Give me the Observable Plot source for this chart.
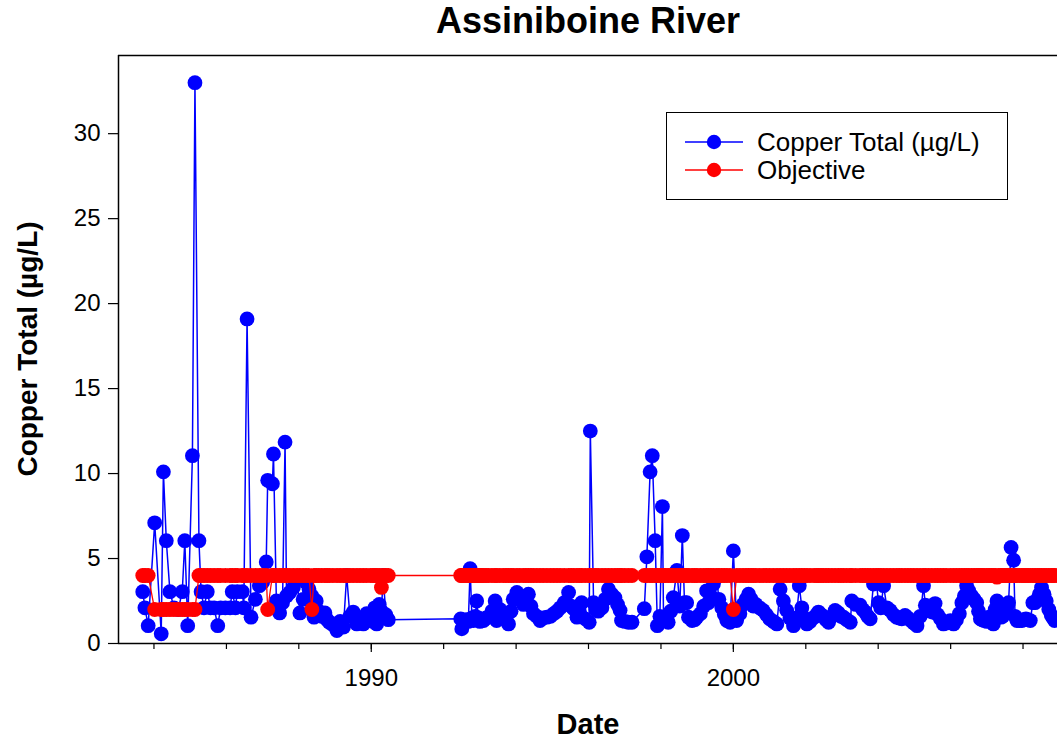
<!DOCTYPE html>
<html>
<head>
<meta charset="utf-8">
<script src="https://cdn.jsdelivr.net/npm/d3@7"></script>
<script src="https://cdn.jsdelivr.net/npm/@observablehq/plot@0.6"></script>
<style>
  html, body { margin: 0; padding: 0; background: #fff; overflow: hidden; }
  #wrap { position: relative; width: 1057px; height: 742px; font-family: "Liberation Sans", Arial, sans-serif; }
  #title { position: absolute; left: 118px; width: 940px; top: 0px; text-align: center; font-weight: bold; font-size: 36px; }
  #xlabel { position: absolute; left: 118px; width: 940px; top: 708px; text-align: center; font-weight: bold; font-size: 29px; }
  #ylabel { position: absolute; left: 28px; top: 349px; transform: translate(-50%, -50%) rotate(-90deg); white-space: nowrap; font-weight: bold; font-size: 28px; }
  #legend { position: absolute; left: 666px; top: 112px; width: 340px; height: 86px; border: 1.5px solid #000; background: #fff; }
  .row { position: absolute; left: 18px; height: 28px; display: flex; align-items: center; font-size: 26px; }
  .row svg { margin-right: 14px; }
</style>
</head>
<body>
<div id="wrap">
  <div id="chart"></div>
  <div id="title">Assiniboine River</div>
  <div id="ylabel">Copper Total (µg/L)</div>
  <div id="xlabel">Date</div>
  <div id="legend"></div>
</div>
<script>
// Sample dates as decimal years
const sampleYears = [
  1983.69, 1983.75, 1983.84, 1984.02, 1984.20, 1984.26, 1984.34, 1984.44, 1984.55, 1984.67, 1984.78, 1984.85, 1984.93, 1985.06, 1985.13,
  1985.24, 1985.30, 1985.38, 1985.47, 1985.56, 1985.66, 1985.76, 1985.84, 1985.97, 1986.10, 1986.16, 1986.25, 1986.30, 1986.44, 1986.48, 1986.57, 1986.68, 1986.80, 1986.91,
  1987.00, 1987.10, 1987.14, 1987.27, 1987.30, 1987.38, 1987.47, 1987.55, 1987.62, 1987.66, 1987.75, 1987.85, 1987.95, 1988.03, 1988.12, 1988.20, 1988.28, 1988.36, 1988.42,
  1988.48, 1988.55, 1988.63, 1988.72, 1988.78, 1988.84, 1988.94, 1989.05, 1989.14, 1989.23, 1989.32, 1989.41, 1989.50, 1989.60, 1989.69, 1989.78, 1989.87, 1989.98, 1990.05, 1990.10, 1990.15, 1990.22, 1990.28, 1990.33, 1990.40, 1990.47,
  1992.47, 1992.50, 1992.56, 1992.62, 1992.68, 1992.73, 1992.78, 1992.82, 1992.87, 1992.91, 1992.96, 1993.00, 1993.05, 1993.10, 1993.17, 1993.23, 1993.33, 1993.42, 1993.46, 1993.55, 1993.65, 1993.72, 1993.79, 1993.86, 1993.92,
  1994.02, 1994.10, 1994.20, 1994.27, 1994.34, 1994.41, 1994.48, 1994.57, 1994.66, 1994.75, 1994.85, 1994.95, 1995.04, 1995.13, 1995.22, 1995.33, 1995.45, 1995.52, 1995.59, 1995.68, 1995.75, 1995.81, 1995.91,
  1996.02, 1996.05, 1996.14, 1996.20, 1996.27, 1996.37, 1996.46, 1996.55, 1996.64, 1996.73, 1996.80, 1996.87, 1996.91, 1997.00, 1997.10, 1997.20,
  1997.54, 1997.61, 1997.70, 1997.76, 1997.84, 1997.90, 1997.97, 1998.04, 1998.07, 1998.12, 1998.20, 1998.27, 1998.34, 1998.44, 1998.52, 1998.59, 1998.65, 1998.71, 1998.76, 1998.86, 1998.93, 1998.99,
  1999.09, 1999.18, 1999.26, 1999.31, 1999.38, 1999.45, 1999.54, 1999.60, 1999.68, 1999.75, 1999.82, 1999.91, 2000.00, 2000.09, 2000.18, 2000.27, 2000.35, 2000.42, 2000.49, 2000.55, 2000.62, 2000.72, 2000.82, 2000.91,
  2001.00, 2001.10, 2001.20, 2001.29, 2001.38, 2001.47, 2001.56, 2001.66, 2001.74, 2001.82, 2001.89, 2001.96, 2002.03, 2002.12, 2002.23, 2002.30, 2002.35, 2002.42, 2002.48, 2002.56, 2002.63, 2002.72, 2002.81, 2002.90, 2002.97,
  2003.04, 2003.13, 2003.23, 2003.27, 2003.38, 2003.50, 2003.57, 2003.64, 2003.71, 2003.78, 2003.87, 2003.95, 2004.01, 2004.07, 2004.15, 2004.24, 2004.33, 2004.42, 2004.51, 2004.58, 2004.65, 2004.74, 2004.82, 2004.90, 2004.98,
  2005.07, 2005.16, 2005.25, 2005.30, 2005.39, 2005.48, 2005.57, 2005.64, 2005.72, 2005.80, 2005.88, 2005.99, 2006.08, 2006.16, 2006.24, 2006.31, 2006.38, 2006.44, 2006.50, 2006.58, 2006.65, 2006.72, 2006.77, 2006.82, 2006.87, 2006.92,
  2007.00, 2007.06, 2007.12, 2007.18, 2007.23, 2007.28, 2007.33, 2007.39, 2007.44, 2007.50, 2007.55, 2007.60, 2007.67, 2007.74, 2007.78, 2007.83, 2007.90, 2007.97, 2008.02, 2008.08, 2008.14, 2008.20, 2008.27, 2008.33, 2008.40, 2008.45, 2008.51, 2008.58, 2008.64, 2008.71, 2008.78, 2008.83, 2008.87, 2008.95, 2009.05
];
// Copper Total (µg/L)
const copperTotal = [
  3.05, 2.1, 1.05, 7.1, 0.57, 10.1, 6.05, 3.05, 2.1, 2.0, 3.05, 6.05, 1.05, 11.05, 33.0,
  6.05, 3.05, 2.1, 3.05, 2.1, 2.1, 1.05, 2.1, 2.1, 2.1, 3.05, 2.1, 3.05, 3.05, 2.1, 19.1, 1.55, 2.6, 3.4,
  3.6, 4.8, 9.6, 9.4, 11.15, 2.5, 1.8, 2.4, 11.85, 2.8, 3.0, 3.3, 3.9, 1.8, 2.6, 3.6, 3.2, 2.8, 1.55,
  2.5, 1.9, 1.6, 1.8, 1.4, 1.25, 1.1, 0.76, 1.3, 0.96, 4.0, 1.6, 1.85, 1.15, 1.3, 1.15, 1.75, 1.6, 1.3, 2.1, 1.15, 2.3, 1.9, 4.0, 1.7, 1.4,
  1.45, 0.86, 1.2, 1.4, 1.3, 4.4, 1.5, 1.35, 1.6, 2.5, 1.5, 1.3, 1.4, 1.35, 1.5, 1.55, 1.9, 2.5, 1.35, 2.0, 1.75, 1.4, 1.15, 1.9, 2.6,
  3.0, 2.6, 2.3, 2.5, 2.9, 2.2, 1.75, 1.6, 1.35, 1.5, 1.55, 1.6, 1.75, 1.9, 2.1, 2.4, 3.0, 2.2, 2.05, 1.55, 1.9, 2.4, 1.45,
  1.25, 12.5, 2.4, 2.0, 1.9, 2.1, 2.6, 3.2, 2.9, 2.7, 2.3, 1.95, 1.35, 1.3, 1.25, 1.25,
  2.05, 5.1, 10.1, 11.05, 6.05, 1.05, 1.6, 8.06, 1.55, 1.4, 1.25, 1.9, 2.7, 4.3, 2.2, 6.35, 2.4, 2.4, 1.55, 1.35, 1.4, 1.55,
  1.75, 2.2, 3.1, 2.4, 2.8, 3.5, 3.9, 2.6, 2.1, 1.7, 1.35, 1.25, 5.45, 1.35, 1.75, 2.3, 2.6, 2.9, 2.6, 2.2, 2.3, 2.1, 1.95, 1.7,
  1.45, 1.3, 1.15, 3.2, 2.5, 1.95, 1.5, 1.05, 1.5, 3.4, 2.1, 1.5, 1.15, 1.3, 1.55, 1.7, 1.85, 1.7, 1.6, 1.4, 1.25, 1.6, 1.95, 1.8, 1.6,
  1.55, 1.4, 1.25, 2.5, 2.3, 2.25, 2.0, 1.85, 1.6, 1.45, 3.5, 3.6, 2.4, 2.1, 3.4, 2.1, 1.95, 1.7, 1.55, 1.5, 1.45, 1.65, 1.5, 1.35, 1.2,
  1.05, 1.6, 3.4, 2.25, 2.0, 1.85, 2.35, 1.7, 1.45, 1.15, 1.2, 1.35, 1.15, 1.4, 1.75, 2.4, 2.8, 3.4, 3.1, 2.8, 2.6, 2.4, 1.9, 1.45, 1.4, 1.35,
  1.3, 1.55, 1.3, 1.15, 2.0, 2.5, 2.0, 1.55, 1.6, 1.85, 2.1, 2.4, 5.65, 4.9, 1.6, 1.35, 1.35, 1.35, 1.4, 1.45, 1.4, 1.35, 2.4, 2.4, 2.6, 2.9, 3.3, 2.9, 2.5, 2.0, 1.65, 1.5, 1.35, 1.4, 1.5
];
// Objective (µg/L)
const objective = [
  4, 4, 4, 2, 2, 2, 2, 2, 2, 2, 2, 2, 2, 2, 2,
  4, 4, 4, 4, 4, 4, 4, 4, 4, 4, 4, 4, 4, 4, 4, 4, 4, 4, 4,
  4, 4, 2, 4, 4, 4, 4, 4, 4, 4, 4, 4, 4, 4, 4, 4, 4, 2, 4,
  4, 4, 4, 4, 4, 4, 4, 4, 4, 4, 4, 4, 4, 4, 4, 4, 4, 4, 4, 4, 4, 4, 3.3, 4, 4, 4,
  4, 4, 4, 4, 4, 4, 4, 4, 4, 4, 4, 4, 4, 4, 4, 4, 4, 4, 4, 4, 4, 4, 4, 4, 4,
  4, 4, 4, 4, 4, 4, 4, 4, 4, 4, 4, 4, 4, 4, 4, 4, 4, 4, 4, 4, 4, 4, 4,
  4, 4, 4, 4, 4, 4, 4, 4, 4, 4, 4, 4, 4, 4, 4, 4,
  4, 4, 4, 4, 4, 4, 4, 4, 4, 4, 4, 4, 4, 4, 4, 4, 4, 4, 4, 4, 4, 4,
  4, 4, 4, 4, 4, 4, 4, 4, 4, 4, 4, 4, 2, 4, 4, 4, 4, 4, 4, 4, 4, 4, 4, 4,
  4, 4, 4, 4, 4, 4, 4, 4, 4, 4, 4, 4, 4, 4, 4, 4, 4, 4, 4, 4, 4, 4, 4, 4, 4,
  4, 4, 4, 4, 4, 4, 4, 4, 4, 4, 4, 4, 4, 4, 4, 4, 4, 4, 4, 4, 4, 4, 4, 4, 4,
  4, 4, 4, 4, 4, 4, 4, 4, 4, 4, 4, 4, 4, 4, 4, 4, 4, 4, 4, 4, 4, 4, 4, 4, 4, 4,
  4, 4, 4, 4, 4, 3.9, 4, 4, 4, 4, 4, 4, 4, 4, 4, 4, 4, 4, 4, 4, 4, 4, 4, 4, 4, 4, 4, 4, 4, 4, 4, 4, 4, 4, 4
];
const yTicks = [0, 5, 10, 15, 20, 25, 30];
const xLabelYears = [1990, 2000];
const xDomainYears = [1983.02, 2008.95];
const yDomain = [0, 34.6];
const seriesNames = ["Copper Total (µg/L)", "Objective"];
const seriesColors = ["#0000ff", "#ff0000"];

if (sampleYears.length !== copperTotal.length || sampleYears.length !== objective.length) {
  throw new Error(`length mismatch ${sampleYears.length} ${copperTotal.length} ${objective.length}`);
}

function toDate(dy) {
  const y = Math.floor(dy);
  const a = Date.UTC(y, 0, 1), b = Date.UTC(y + 1, 0, 1);
  return new Date(a + (dy - y) * (b - a));
}

const data = sampleYears.map((t, i) => ({date: toDate(t), cu: copperTotal[i], obj: objective[i]}));

const chart = Plot.plot({
  width: 1057,
  height: 742,
  marginTop: 55,
  marginBottom: 99,
  marginLeft: 118,
  marginRight: 0,
  style: {fontFamily: "Liberation Sans, Arial, sans-serif", fontSize: "24px", color: "#000", background: "#fff"},
  x: {type: "utc", domain: xDomainYears.map(toDate)},
  y: {domain: yDomain},
  marks: [
    Plot.line(data, {x: "date", y: "cu", stroke: seriesColors[0], strokeWidth: 1.5, clip: true}),
    Plot.dot(data, {x: "date", y: "cu", r: 7.4, fill: seriesColors[0], clip: true}),
    Plot.line(data, {x: "date", y: "obj", stroke: seriesColors[1], strokeWidth: 1.3, clip: true}),
    Plot.dot(data, {x: "date", y: "obj", r: 7.4, fill: seriesColors[1], clip: true}),
    Plot.ruleY([yDomain[0], yDomain[1]], {stroke: "#000", strokeWidth: 1.5}),
    Plot.ruleX([toDate(xDomainYears[0])], {stroke: "#000", strokeWidth: 1.5}),
    Plot.axisY(yTicks, {tickSize: 10, tickPadding: 8, label: null, fontSize: 24, strokeWidth: 1.2}),
    Plot.axisX({ticks: d3.utcYear.every(2), tickSize: 6, tickFormat: () => "", label: null, strokeWidth: 1.2}),
    Plot.axisX(xLabelYears.map(toDate), {tickSize: 9, tickPadding: 16, tickFormat: d => String(d.getUTCFullYear()), label: null, fontSize: 24, strokeWidth: 1.2})
  ]
});
document.getElementById("chart").appendChild(chart);

// Legend
const legend = document.getElementById("legend");
seriesNames.forEach((name, i) => {
  const row = document.createElement("div");
  row.className = "row";
  row.style.top = (i === 0 ? 15 : 43) + "px";
  row.innerHTML = `<svg width="58" height="20"><line x1="0" x2="58" y1="10" y2="10" stroke="${seriesColors[i]}" stroke-width="1.5"/><circle cx="29" cy="10" r="7.2" fill="${seriesColors[i]}"/></svg><span>${name}</span>`;
  legend.appendChild(row);
});
</script>
</body>
</html>
